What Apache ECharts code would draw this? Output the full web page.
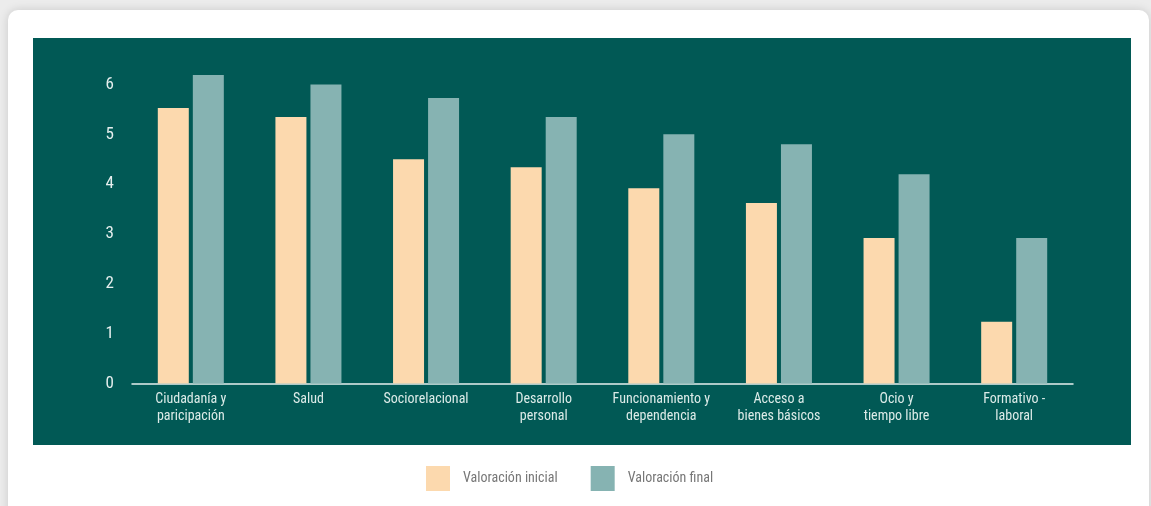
<!DOCTYPE html>
<html>
<head>
<meta charset="utf-8">
<script src="https://cdn.jsdelivr.net/npm/echarts@6/dist/echarts.min.js"></script>
<style>
  html, body { margin: 0; padding: 0; width: 1151px; height: 506px; overflow: hidden; background: #ececec; }
  #card { position: absolute; left: 8px; top: 10px; width: 1141px; height: 530px; background: #fff;
          border-radius: 10px; box-shadow: 0 0 10px rgba(0,0,0,0.15); }
  #main { position: absolute; left: 0; top: 0; width: 1151px; height: 506px; }
</style>
</head>
<body>
<div id="card"></div>
<div id="main"></div>
<script>
// categorías del eje X
var categories = [
  'Ciudadanía y\nparicipación',
  'Salud',
  'Sociorelacional',
  'Desarrollo\npersonal',
  'Funcionamiento y\ndependencia',
  'Acceso a\nbienes básicos',
  'Ocio y\ntiempo libre',
  'Formativo -\nlaboral'
];
var valoracionInicial = [5.53, 5.35, 4.5, 4.34, 3.92, 3.62, 2.92, 1.24];
var valoracionFinal = [6.19, 6.0, 5.73, 5.35, 5.0, 4.8, 4.2, 2.92];
var seriesNames = ['Valoración inicial', 'Valoración final'];

var narrow = "'Liberation Sans Narrow', 'Roboto Condensed', 'DejaVu Sans Condensed', sans-serif";

var myChart = echarts.init(document.getElementById('main'));
myChart.setOption({
  backgroundColor: 'transparent',
  animation: false,
  graphic: [{
    type: 'rect',
    z: -10,
    shape: { x: 33, y: 38, width: 1098, height: 407 },
    style: { fill: '#015955' }
  }],
  legend: {
    left: 421,
    top: 461,
    itemWidth: 24,
    itemHeight: 25,
    itemGap: 33,
    icon: 'rect',
    data: seriesNames,
    textStyle: { color: '#777', fontSize: 14, fontFamily: narrow, padding: [0, 0, 0, 8] }
  },
  grid: { left: 132, right: 78, top: 59.6, bottom: 122.5 },
  xAxis: {
    type: 'category',
    data: categories,
    axisLine: { lineStyle: { color: '#e6efee', width: 1.5 } },
    axisTick: { show: false },
    axisLabel: { color: '#dcebe8', fontSize: 14, lineHeight: 17, margin: 7, fontFamily: narrow, interval: 0 }
  },
  yAxis: {
    type: 'value',
    min: 0,
    max: 6.5,
    interval: 1,
    splitLine: { show: false },
    axisLine: { show: false },
    axisTick: { show: false },
    axisLabel: { color: '#e6efee', fontSize: 17, margin: 18, fontFamily: narrow, showMaxLabel: false }
  },
  series: [{
    name: seriesNames[0],
    type: 'bar',
    data: valoracionInicial,
    barWidth: 31,
    barGap: '13%',
    itemStyle: { color: '#fcd9ae' }
  }, {
    name: seriesNames[1],
    type: 'bar',
    data: valoracionFinal,
    barWidth: 31,
    itemStyle: { color: '#86b3b2' }
  }]
});
</script>
</body>
</html>
